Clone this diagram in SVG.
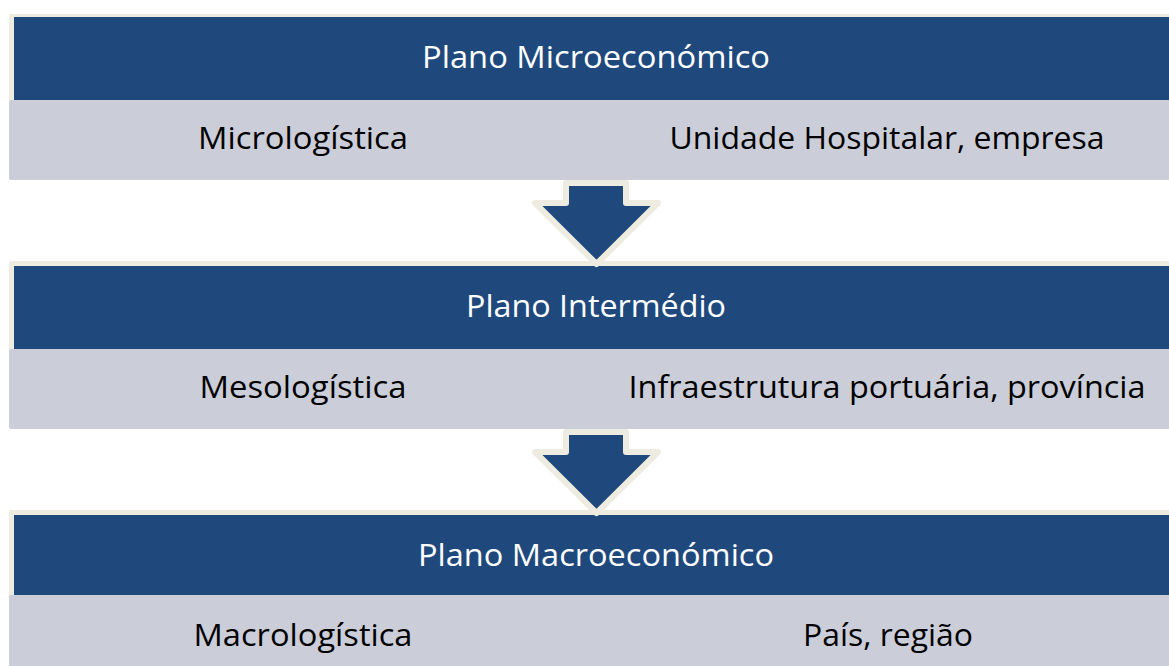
<svg xmlns="http://www.w3.org/2000/svg" width="1169" height="666" viewBox="0 0 1169 666">
<style>
.frame{fill:#EEECE1}
.hdr{fill:#1F497D}
.sub{fill:#CBCED8}
.arrow{fill:#1F497D;stroke:#EEECE1;stroke-width:6;stroke-linejoin:round}
.t{font-family:"Open Sans","Liberation Sans",sans-serif;font-size:31px}
.w{fill:#FFFFFF}
.k{fill:#000000}
</style>
<rect width="1169" height="666" fill="#FFFFFF"/>
<g id="node-micro">
<rect class="frame" x="9" y="14" width="1170" height="88" rx="2"/>
<rect class="hdr" x="14" y="17" width="1160" height="83"/>
<rect class="sub" x="9" y="100" width="1170" height="80" rx="2"/>
<text class="t w" x="596" y="68" text-anchor="middle" textLength="348" lengthAdjust="spacingAndGlyphs">Plano Microeconómico</text>
<text class="t k" x="303" y="149" text-anchor="middle" textLength="210" lengthAdjust="spacingAndGlyphs">Micrologística</text>
<text class="t k" x="887" y="149" text-anchor="middle" textLength="435" lengthAdjust="spacingAndGlyphs">Unidade Hospitalar, empresa</text>
</g>
<g id="node-inter">
<rect class="frame" x="9" y="261" width="1170" height="90" rx="2"/>
<rect class="hdr" x="14" y="266" width="1160" height="83"/>
<rect class="sub" x="9" y="349" width="1170" height="80" rx="2"/>
<text class="t w" x="596" y="317" text-anchor="middle" textLength="260" lengthAdjust="spacingAndGlyphs">Plano Intermédio</text>
<text class="t k" x="303" y="398" text-anchor="middle" textLength="207" lengthAdjust="spacingAndGlyphs">Mesologística</text>
<text class="t k" x="887" y="398" text-anchor="middle" textLength="517" lengthAdjust="spacingAndGlyphs">Infraestrutura portuária, província</text>
</g>
<g id="node-macro">
<rect class="frame" x="9" y="510" width="1170" height="90" rx="2"/>
<rect class="hdr" x="14" y="515" width="1160" height="80"/>
<rect class="sub" x="9" y="595" width="1170" height="80" rx="2"/>
<text class="t w" x="596" y="566" text-anchor="middle" textLength="356" lengthAdjust="spacingAndGlyphs">Plano Macroeconómico</text>
<text class="t k" x="303" y="646" text-anchor="middle" textLength="219" lengthAdjust="spacingAndGlyphs">Macrologística</text>
<text class="t k" x="888" y="646" text-anchor="middle" textLength="170" lengthAdjust="spacingAndGlyphs">País, região</text>
</g>
<g id="connectors">
<polygon class="arrow" points="566,183 626,183 626,203 658,203 596.5,264 535,203 566,203"/>
<polygon class="arrow" points="566,432 626,432 626,452 658,452 596.5,513 535,452 566,452"/>
</g>
</svg>
